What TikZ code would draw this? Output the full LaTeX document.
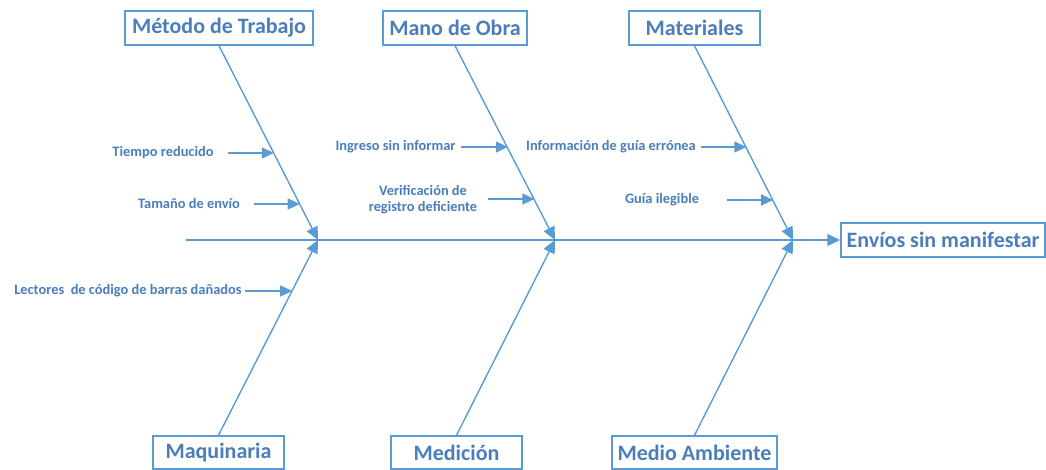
\documentclass[tikz,border=0pt]{standalone}
\usepackage{fontspec}
\setmainfont{Carlito}
\usetikzlibrary{arrows.meta}
\definecolor{lineblue}{HTML}{5B9BD5}
\definecolor{textblue}{HTML}{4A7EBB}
\begin{document}
\begin{tikzpicture}[x=1pt,y=-1pt,
  catbox/.style={draw=lineblue,line width=1.5pt,text=textblue,font=\bfseries\fontsize{22}{25}\selectfont,minimum height=34pt,inner sep=0pt},
  lbl/.style={text=textblue,font=\bfseries\fontsize{14.4}{16.5}\selectfont,inner sep=0pt,align=center},
  bone/.style={draw=lineblue,line width=1.4pt},
  bigtip/.style={-{Triangle[length=13pt,width=12pt]}},
  smalltip/.style={-{Triangle[length=12pt,width=11pt]}}]
\useasboundingbox (0,0) rectangle (1046,470);
% category boxes
\node[catbox,minimum width=188pt] (met) at (219,28) {Método de Trabajo};
\node[catbox,minimum width=144pt] (mano) at (455,28) {Mano de Obra};
\node[catbox,minimum width=131pt] (mat) at (694.5,28) {Materiales};
\node[catbox,minimum width=131pt,minimum height=33pt] (maq) at (218.5,452.5) {Maquinaria};
\node[catbox,minimum width=131pt,minimum height=33pt] (med) at (456.5,452.5) {Medición};
\node[catbox,minimum width=165pt,minimum height=33pt] (amb) at (694.5,452.5) {Medio Ambiente};
\node[catbox,minimum width=204pt] (eff) at (943,240) {Envíos sin manifestar};
% spine
\coordinate (tail) at (186,240);
\coordinate (j1) at (318,240);
\coordinate (j2) at (555,240);
\coordinate (j3) at (793,240);
\draw[bone,bigtip] (tail) -- (eff.west);
\draw[bone,bigtip] (met.south) -- (j1);
\draw[bone,bigtip] (mano.south) -- (j2);
\draw[bone,bigtip] (mat.south) -- (j3);
\draw[bone,bigtip] (maq.north) -- (j1);
\draw[bone,bigtip] (med.north) -- (j2);
\draw[bone,bigtip] (amb.north) -- (j3);
% sub-cause labels
\node[lbl] (l1) at (163,153) {Tiempo reducido};
\node[lbl] (l2) at (189,204) {Tamaño de envío};
\node[lbl] (l3) at (395.5,147) {Ingreso sin informar};
\node[lbl] (l4) at (423,199.5) {Verificación de\\registro deficiente};
\node[lbl] (l5) at (611,147) {Información de guía errónea};
\node[lbl] (l6) at (662,200) {Guía ilegible};
\node[lbl] (l7) at (128,291) {Lectores\ \ de código de barras dañados};
% sub-cause arrows
\coordinate (s1) at (228,153);   \coordinate (e1) at (273.8,153);
\coordinate (s2) at (254,204);   \coordinate (e2) at (299.7,204);
\coordinate (s3) at (461,147);   \coordinate (e3) at (507.8,147);
\coordinate (s4) at (488,199);   \coordinate (e4) at (534.4,199);
\coordinate (s5) at (701,147);   \coordinate (e5) at (746.3,147);
\coordinate (s6) at (727,200);   \coordinate (e6) at (773.2,200);
\coordinate (s7) at (245,291);   \coordinate (e7) at (292.2,291);
\foreach \i in {1,...,7}{\draw[bone,smalltip] (s\i) -- (e\i);}
\end{tikzpicture}
\end{document}
